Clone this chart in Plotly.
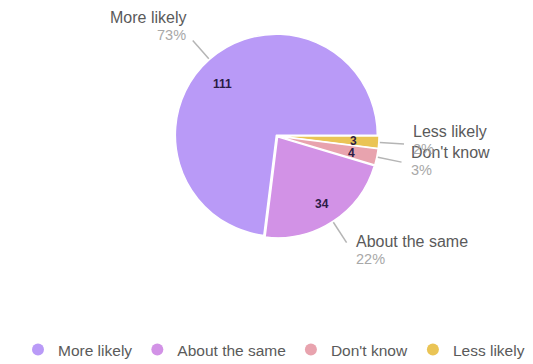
import math
import plotly.graph_objects as go

# data
labels = ["More likely", "About the same", "Don't know", "Less likely"]
values = [111, 34, 4, 3]
colors = ["#B99AF7", "#D292E6", "#E8A3AE", "#EAC455"]

W, H = 533, 364
cx, cy, R = 277, 136, 101  # pie centre / radius in px
pull = 0.01


def px(x):
    return x / W


def py(y):
    return 1 - y / H


fig = go.Figure()
rr = R * (1 + pull)
# slices go counterclockwise from 3 o'clock: draw the reversed list clockwise
fig.add_trace(go.Pie(
    labels=labels[::-1],
    values=values[::-1],
    marker=dict(colors=colors[::-1], line=dict(color="white", width=1.5)),
    sort=False,
    direction="clockwise",
    rotation=90,
    pull=pull,
    textinfo="none",
    hoverinfo="label+value+percent",
    showlegend=False,
    domain=dict(x=[px(cx - rr), px(cx + rr)], y=[py(cy + rr), py(cy - rr)]),
))

# legend with round markers
for lab, col in zip(labels, colors):
    fig.add_trace(go.Scatter(
        x=[None], y=[None], mode="markers", name=lab,
        marker=dict(color=col, size=12, symbol="circle"),
    ))

# value labels inside and outside labels with leader lines
total = sum(values)
cum = 0
for lab, v in zip(labels, values):
    th = 2 * math.pi * (cum + v / 2) / total
    cum += v
    c, s = math.cos(th), math.sin(th)
    # value in slice
    fig.add_annotation(
        x=px(cx + 0.81 * R * c), y=py(cy - 0.81 * R * s),
        xref="paper", yref="paper", showarrow=False,
        text="<b>%d</b>" % v, font=dict(size=12, color="#2b1c45"),
    )
    # leader line
    x0, y0 = cx + 1.02 * R * c, cy - 1.02 * R * s
    x1, y1 = cx + 1.26 * R * c, cy - 1.26 * R * s
    fig.add_shape(type="line", xref="paper", yref="paper",
                  x0=px(x0), y0=py(y0), x1=px(x1), y1=py(y1),
                  line=dict(color="#b5b5b5", width=1.5))
    pct = round(100 * v / total)
    ny = y1 - 12.8 - 13.5 * s
    if c < 0:
        tx, anc = x1 - 5, "right"
    else:
        tx, anc = x1 + 7, "left"
    fig.add_annotation(x=px(tx), y=py(ny), xref="paper", yref="paper",
                       showarrow=False, text=lab, xanchor=anc, yanchor="middle",
                       font=dict(size=16, color="#5a5a5a"))
    fig.add_annotation(x=px(tx), y=py(ny + 17.5), xref="paper", yref="paper",
                       showarrow=False, text="%d%%" % pct, xanchor=anc, yanchor="middle",
                       font=dict(size=14.5, color="#a8a8a8"))

fig.update_annotations(font_family="Liberation Sans")
fig.update_layout(
    width=W, height=H,
    margin=dict(l=0, r=0, t=0, b=0, autoexpand=False),
    paper_bgcolor="white", plot_bgcolor="white",
    font=dict(family="Liberation Sans", size=16, color="#5a5a5a"),
    xaxis=dict(visible=False), yaxis=dict(visible=False),
    showlegend=True,
    legend=dict(orientation="h", x=px(274), xanchor="center", y=py(350), yanchor="middle",
                font=dict(size=15.5, color="#5a5a5a"), itemwidth=30),
)

# page body has a default margin; drop it so the figure sits at the window corner
fig.write_html("out.html", config={"displayModeBar": False},
               post_script="document.body.style.margin='0';")
